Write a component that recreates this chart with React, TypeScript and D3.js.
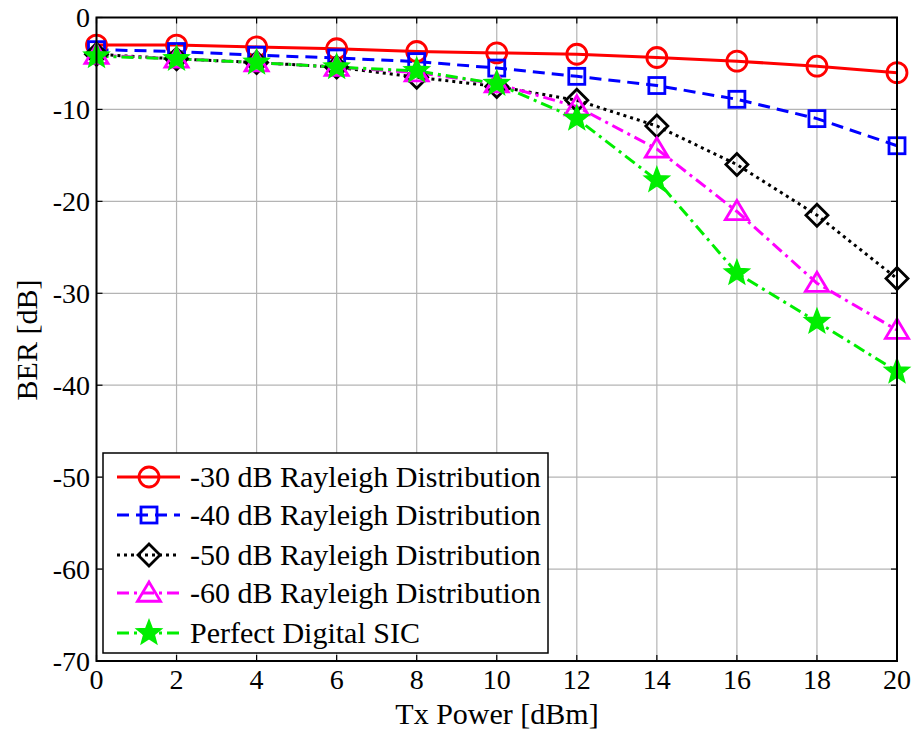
import React from "react";
import * as d3 from "d3";

const txPower = [0, 2, 4, 6, 8, 10, 12, 14, 16, 18, 20];
const xTicks = [0, 2, 4, 6, 8, 10, 12, 14, 16, 18, 20];
const yTicks = [0, -10, -20, -30, -40, -50, -60, -70];

const ber30 = [-3.0, -3.0, -3.2, -3.4, -3.7, -3.85, -4.0, -4.35, -4.75, -5.3, -6.0];
const ber40 = [-3.5, -3.7, -4.1, -4.4, -4.8, -5.5, -6.4, -7.4, -8.9, -11.0, -13.95];
const ber50 = [-4.0, -4.5, -4.9, -5.4, -6.5, -7.5, -9.0, -11.8, -16.0, -21.5, -28.4];
const ber60 = [-4.1, -4.5, -4.9, -5.4, -6.0, -7.2, -9.7, -14.3, -21.1, -28.9, -34.0];
const berSIC = [-4.2, -4.5, -4.9, -5.4, -5.8, -7.2, -11.0, -17.7, -27.8, -33.1, -38.5];

const seriesNames = [
  "-30 dB Rayleigh Distribution",
  "-40 dB Rayleigh Distribution",
  "-50 dB Rayleigh Distribution",
  "-60 dB Rayleigh Distribution",
  "Perfect Digital SIC",
];

type Marker = "circle" | "square" | "diamond" | "triangle" | "star";
const seriesStyles: { color: string; dash: string; marker: Marker }[] = [
  { color: "#ff0000", dash: "", marker: "circle" },
  { color: "#0000ff", dash: "12 7", marker: "square" },
  { color: "#000000", dash: "3 4", marker: "diamond" },
  { color: "#ff00ff", dash: "12 5 3 5", marker: "triangle" },
  { color: "#00ee00", dash: "12 5 3 5", marker: "star" },
];

const allSeries = [ber30, ber40, ber50, ber60, berSIC];

const W = 916;
const H = 736;
const L = 96.5, R = 897, T = 17.5, B = 661;
const FONT = "'Liberation Serif', 'Times New Roman', serif";

function MarkerShape({ type, x, y, color }: { type: Marker; x: number; y: number; color: string }) {
  const sw = 2.8;
  if (type === "circle") return <circle cx={x} cy={y} r={10} fill="none" stroke={color} strokeWidth={sw} />;
  if (type === "square") return <rect x={x - 8} y={y - 8} width={16} height={16} fill="none" stroke={color} strokeWidth={sw} />;
  if (type === "diamond") {
    const s = 11;
    return <path d={`M${x},${y - s}L${x + s},${y}L${x},${y + s}L${x - s},${y}Z`} fill="none" stroke={color} strokeWidth={sw} />;
  }
  if (type === "triangle") {
    const s = 11;
    return <path d={`M${x},${y - s}L${x + s * 1.05},${y + s * 0.75}L${x - s * 1.05},${y + s * 0.75}Z`} fill="none" stroke={color} strokeWidth={sw} />;
  }
  const pts: string[] = [];
  const ro = 13, ri = 5.5;
  for (let i = 0; i < 10; i++) {
    const a = -Math.PI / 2 + (i * Math.PI) / 5;
    const r = i % 2 === 0 ? ro : ri;
    pts.push(`${x + r * Math.cos(a)},${y + r * Math.sin(a)}`);
  }
  return <path d={`M${pts.join("L")}Z`} fill={color} stroke={color} strokeWidth={1.5} strokeLinejoin="miter" />;
}

export default function App() {
  const x = d3.scaleLinear().domain([0, 20]).range([L, R]);
  const y = d3.scaleLinear().domain([0, -70]).range([T, B]);
  const line = d3
    .line<number>()
    .x((_, i) => x(txPower[i]))
    .y((d) => y(d));

  const legX = 103, legY = 453, legW = 445, legH = 200;
  const legRows = [477, 515, 555, 593, 633];

  return (
    <svg width={W} height={H} style={{ position: "absolute", left: 0, top: 0, background: "#fff" }} fontFamily={FONT}>
      <rect x={0} y={0} width={W} height={H} fill="#fff" />
      {/* grid */}
      {xTicks.map((t) => (
        <line key={"gx" + t} x1={x(t)} x2={x(t)} y1={T} y2={B} stroke="#b4b4b4" strokeWidth={1.2} />
      ))}
      {yTicks.map((t) => (
        <line key={"gy" + t} x1={L} x2={R} y1={y(t)} y2={y(t)} stroke="#b4b4b4" strokeWidth={1.2} />
      ))}
      {/* ticks */}
      {xTicks.map((t) => (
        <g key={"tx" + t}>
          <line x1={x(t)} x2={x(t)} y1={B} y2={B - 6} stroke="#000" strokeWidth={1.2} />
          <line x1={x(t)} x2={x(t)} y1={T} y2={T + 6} stroke="#000" strokeWidth={1.2} />
        </g>
      ))}
      {yTicks.map((t) => (
        <g key={"ty" + t}>
          <line x1={L} x2={L + 6} y1={y(t)} y2={y(t)} stroke="#000" strokeWidth={1.2} />
          <line x1={R} x2={R - 6} y1={y(t)} y2={y(t)} stroke="#000" strokeWidth={1.2} />
        </g>
      ))}
      {/* series */}
      {allSeries.map((s, i) => (
        <path key={"l" + i} d={line(s) || ""} fill="none" stroke={seriesStyles[i].color} strokeWidth={3} strokeDasharray={seriesStyles[i].dash} />
      ))}
      {allSeries.map((s, i) =>
        s.map((v, j) => (
          <MarkerShape key={"m" + i + "-" + j} type={seriesStyles[i].marker} x={x(txPower[j])} y={y(v)} color={seriesStyles[i].color} />
        ))
      )}
      {/* axes box */}
      <rect x={L} y={T} width={R - L} height={B - T} fill="none" stroke="#000" strokeWidth={2} />
      {/* tick labels */}
      {xTicks.map((t) => (
        <text key={"xl" + t} x={x(t)} y={689} textAnchor="middle" fontSize={28} fill="#000">
          {t}
        </text>
      ))}
      {yTicks.map((t) => (
        <text key={"yl" + t} x={90} y={y(t)} dy="0.34em" textAnchor="end" fontSize={28} fill="#000">
          {t === 0 ? "0" : `-${Math.abs(t)}`}
        </text>
      ))}
      {/* axis titles */}
      <text x={497} y={724} textAnchor="middle" fontSize={30} fill="#000">
        Tx Power [dBm]
      </text>
      <text transform="translate(37,340) rotate(-90)" textAnchor="middle" fontSize={30} fill="#000">
        BER [dB]
      </text>
      {/* legend */}
      <rect x={legX} y={legY} width={legW} height={legH} fill="#fff" stroke="#000" strokeWidth={1.5} />
      {seriesNames.map((name, i) => {
        const st = seriesStyles[i];
        const ry = legRows[i];
        return (
          <g key={"lg" + i}>
            <line x1={117} x2={180} y1={ry} y2={ry} stroke={st.color} strokeWidth={3} strokeDasharray={st.dash} />
            <MarkerShape type={st.marker} x={149} y={ry} color={st.color} />
            <text x={190} y={ry} dy="0.34em" fontSize={30} fill="#000">
              {name}
            </text>
          </g>
        );
      })}
    </svg>
  );
}
